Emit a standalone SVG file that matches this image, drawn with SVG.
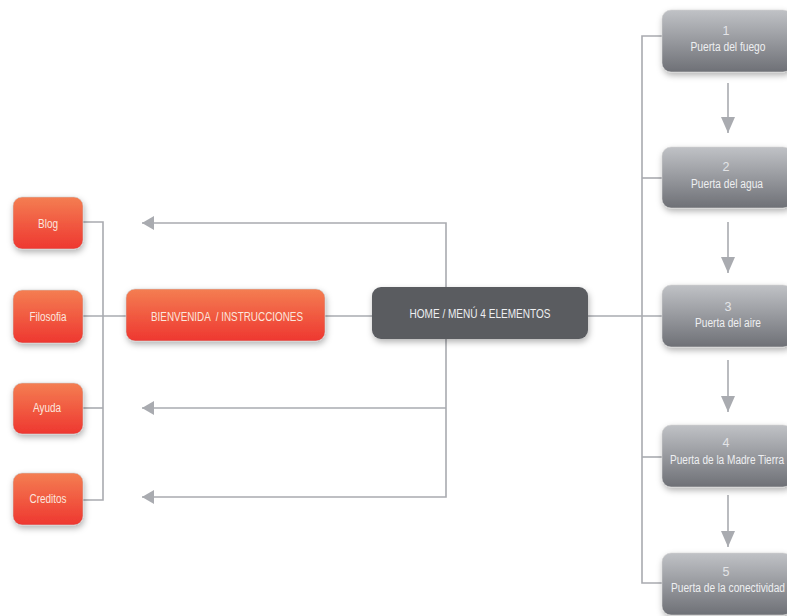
<svg xmlns="http://www.w3.org/2000/svg" width="787" height="616" viewBox="0 0 787 616">
<defs>
<linearGradient id="gOr" x1="0" y1="0" x2="0" y2="1">
<stop offset="0" stop-color="#f47e52"/>
<stop offset="1" stop-color="#ee3730"/>
</linearGradient>
<linearGradient id="gGr" x1="0" y1="0" x2="0" y2="1">
<stop offset="0" stop-color="#c0c2c6"/>
<stop offset="1" stop-color="#6e7076"/>
</linearGradient>
<filter id="sh" x="-20%" y="-20%" width="150%" height="160%">
<feDropShadow dx="1" dy="3" stdDeviation="3" flood-color="#000" flood-opacity="0.3"/>
</filter>
<marker id="ahd" viewBox="0 0 16 14" refX="16" refY="7" markerWidth="16" markerHeight="14" markerUnits="userSpaceOnUse" orient="auto">
<path d="M0,0 L16,7 L0,14 Z" fill="#a9abb0"/>
</marker>
<marker id="ahl" viewBox="0 0 12 14" refX="12" refY="7" markerWidth="12" markerHeight="14" markerUnits="userSpaceOnUse" orient="auto">
<path d="M0,0 L12,7 L0,14 Z" fill="#a9abb0"/>
</marker>
</defs>
<style>
.ln{fill:none;stroke:#a9abb0;stroke-width:1.6}
.or{fill:url(#gOr);stroke:#c9c9c9;stroke-width:0.6;filter:url(#sh)}
.gr{fill:url(#gGr);stroke:#d0d0d0;stroke-width:0.6;filter:url(#sh)}
.dk{fill:#5a5c61;filter:url(#sh)}
text{font-family:"Liberation Sans",Arial,sans-serif;font-size:12.5px;text-anchor:middle}
.tw{fill:#fbe6de}
.tg{fill:#eeeff1}
.tn{fill:#e3e4e7}
</style>
<g id="connectors">
<path class="ln" d="M83,222 H103 V500 H83"/>
<path class="ln" d="M83,316 H126"/>
<path class="ln" d="M83,408 H103"/>
<path class="ln" d="M325,316 H372"/>
<path class="ln" d="M446,287 V223 H142" marker-end="url(#ahl)"/>
<path class="ln" d="M446,339 V497 H142" marker-end="url(#ahl)"/>
<path class="ln" d="M446,408 H142" marker-end="url(#ahl)"/>
<path class="ln" d="M588,316 H662"/>
<path class="ln" d="M662,36 H642 V583 H662"/>
<path class="ln" d="M642,178 H662"/>
<path class="ln" d="M642,457 H662"/>
<path class="ln" d="M728,83 V133" marker-end="url(#ahd)"/>
<path class="ln" d="M728,222 V273" marker-end="url(#ahd)"/>
<path class="ln" d="M728,360 V412" marker-end="url(#ahd)"/>
<path class="ln" d="M728,495 V547" marker-end="url(#ahd)"/>
</g>
<g id="blog"><rect class="or" x="13" y="197" width="70" height="52" rx="9"/><text class="tw" x="48" y="228" textLength="20" lengthAdjust="spacingAndGlyphs">Blog</text></g>
<g id="filosofia"><rect class="or" x="13" y="290" width="70" height="53" rx="9"/><text class="tw" x="48" y="321" textLength="37" lengthAdjust="spacingAndGlyphs">Filosofia</text></g>
<g id="ayuda"><rect class="or" x="13" y="383" width="70" height="51" rx="9"/><text class="tw" x="47" y="412" textLength="28" lengthAdjust="spacingAndGlyphs">Ayuda</text></g>
<g id="creditos"><rect class="or" x="13" y="473" width="70" height="52" rx="9"/><text class="tw" x="48" y="503" textLength="37" lengthAdjust="spacingAndGlyphs">Creditos</text></g>
<g id="bienvenida"><rect class="or" x="126" y="289" width="199" height="52" rx="9"/><text class="tw" x="227" y="321" xml:space="preserve" textLength="152" lengthAdjust="spacingAndGlyphs">BIENVENIDA  / INSTRUCCIONES</text></g>
<g id="home"><rect class="dk" x="372" y="287" width="216" height="52" rx="9"/><text class="tg" x="480" y="318" textLength="141" lengthAdjust="spacingAndGlyphs">HOME / MENÚ 4 ELEMENTOS</text></g>
<g id="p1"><rect class="gr" x="662" y="10" width="130" height="62" rx="9"/><text class="tn" x="726" y="35">1</text><text class="tg" x="728" y="51" textLength="75" lengthAdjust="spacingAndGlyphs">Puerta del fuego</text></g>
<g id="p2"><rect class="gr" x="662" y="147" width="130" height="61" rx="9"/><text class="tn" x="726" y="171">2</text><text class="tg" x="727" y="188" textLength="72" lengthAdjust="spacingAndGlyphs">Puerta del agua</text></g>
<g id="p3"><rect class="gr" x="662" y="285" width="130" height="62" rx="9"/><text class="tn" x="728" y="311">3</text><text class="tg" x="728" y="327" textLength="66" lengthAdjust="spacingAndGlyphs">Puerta del aire</text></g>
<g id="p4"><rect class="gr" x="662" y="425" width="130" height="62" rx="9"/><text class="tn" x="726" y="447">4</text><text class="tg" x="727" y="464" textLength="114" lengthAdjust="spacingAndGlyphs">Puerta de la Madre Tierra</text></g>
<g id="p5"><rect class="gr" x="662" y="553" width="130" height="62" rx="9"/><text class="tn" x="726" y="576">5</text><text class="tg" x="728" y="592" textLength="114" lengthAdjust="spacingAndGlyphs">Puerta de la conectividad</text></g>
</svg>
